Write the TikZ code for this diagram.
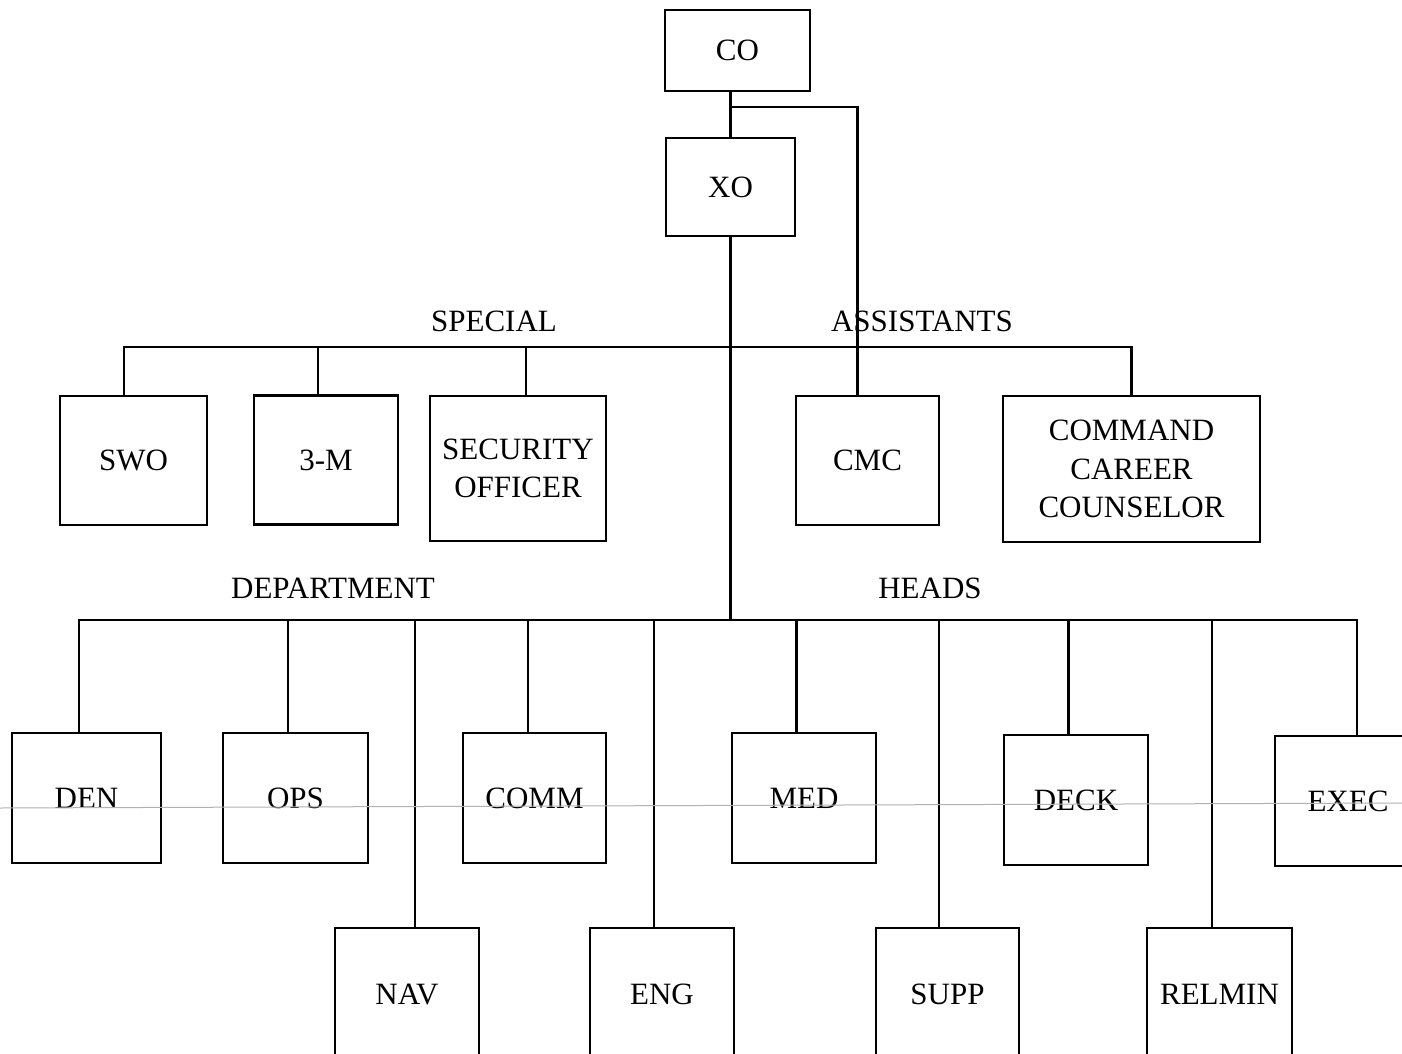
\documentclass[tikz,border=0pt]{standalone}
\usepackage{fontspec}
\setmainfont{Liberation Serif}
\newcommand\fs{\fontsize{15.5}{19.25}\selectfont}
\newcommand\mydrop[3]{\draw[wire] ([xshift=#2]#1.north) -- ([xshift=#2]#1.north |- #3);}
\begin{document}
\begin{tikzpicture}[x=0.5pt,y=-0.5pt,
  box/.style={draw, line width=1.2pt, inner sep=0pt, align=center, font=\fs},
  wire/.style={line width=1.2pt},
  lbl/.style={inner sep=0pt, font=\fs}]
\useasboundingbox (0,0) rectangle (1402,1054);
\clip (0,0) rectangle (1402,1054);
\fill[white] (0,0) rectangle (1402,1054);

% top
\node[box, minimum width=72.5pt, minimum height=40.5pt] (co) at (737.5,50.5) {CO};
\node[box, minimum width=64.5pt, minimum height=49pt] (xo) at (730.5,187) {XO};

% special assistants
\node[box, minimum width=73.5pt, minimum height=64.5pt] (swo) at (133.5,460.5) {SWO};
\node[box, minimum width=72pt, minimum height=64.5pt] (tm) at (326,460) {3-M};
\node[box, minimum width=88pt, minimum height=72.5pt] (sec) at (518,468.5) {SECURITY\\OFFICER};
\node[box, minimum width=71.5pt, minimum height=64.5pt] (cmc) at (867.5,460.5) {CMC};
\node[box, minimum width=128.5pt, minimum height=73pt] (ccc) at (1131.5,469) {COMMAND\\CAREER\\COUNSELOR};

% department heads, upper row
\node[box, minimum width=74.5pt, minimum height=65pt] (den) at (86.5,798) {DEN};
\node[box, minimum width=72.5pt, minimum height=65pt] (ops) at (295.5,798) {OPS};
\node[box, minimum width=71.5pt, minimum height=65pt] (comm) at (534.5,798) {COMM};
\node[box, minimum width=72pt, minimum height=65pt] (med) at (804,798) {MED};
\node[box, minimum width=72pt, minimum height=65pt] (deck) at (1076,800) {DECK};
\node[box, minimum width=73pt, minimum height=65pt] (exec) at (1348,801) {EXEC};

% department heads, lower row
\node[box, minimum width=72pt, minimum height=66pt] (nav) at (407,994) {NAV};
\node[box, minimum width=72pt, minimum height=66pt] (eng) at (662,994) {ENG};
\node[box, minimum width=71.5pt, minimum height=66pt] (supp) at (947.5,994) {SUPP};
\node[box, minimum width=72.5pt, minimum height=66pt] (relmin) at (1219.5,994) {RELMIN};

% labels
\node[lbl] (lspec) at (494,321) {SPECIAL};
\node[lbl] (lassist) at (922,321) {ASSISTANTS};
\node[lbl] (ldept) at (333,588) {DEPARTMENT};
\node[lbl] (lheads) at (930,588) {HEADS};

% junctions
\coordinate (j1) at (730.5,107);
\coordinate (sbus) at (0,347);
\coordinate (dbus) at (0,620);

% CO - XO - CMC
\draw[wire] (co.south -| xo.north) -- (xo.north);
\draw[wire] (j1) -| ([xshift=-5pt]cmc.north);

% special assistants bus
\draw[wire] ([xshift=-4.75pt]swo.north) |- (ccc.north |- sbus) -- (ccc.north);
\mydrop{tm}{-4pt}{sbus}
\mydrop{sec}{4pt}{sbus}

% XO down to department bus
\draw[wire] (xo.south) -- (xo.south |- dbus);

% department bus
\draw[wire] ([xshift=-3.75pt]den.north) |- ([xshift=4.5pt]exec.north |- dbus) -- ([xshift=4.5pt]exec.north);
\mydrop{ops}{-3.75pt}{dbus}
\mydrop{nav}{4pt}{dbus}
\mydrop{comm}{-3.25pt}{dbus}
\mydrop{eng}{-4pt}{dbus}
\mydrop{med}{-3.75pt}{dbus}
\mydrop{supp}{-4.25pt}{dbus}
\mydrop{deck}{-3.75pt}{dbus}
\mydrop{relmin}{-3.75pt}{dbus}

% faint scan line
\draw[gray!60, line width=0.5pt] (0,808) -- (1402,803);
\end{tikzpicture}
\end{document}
